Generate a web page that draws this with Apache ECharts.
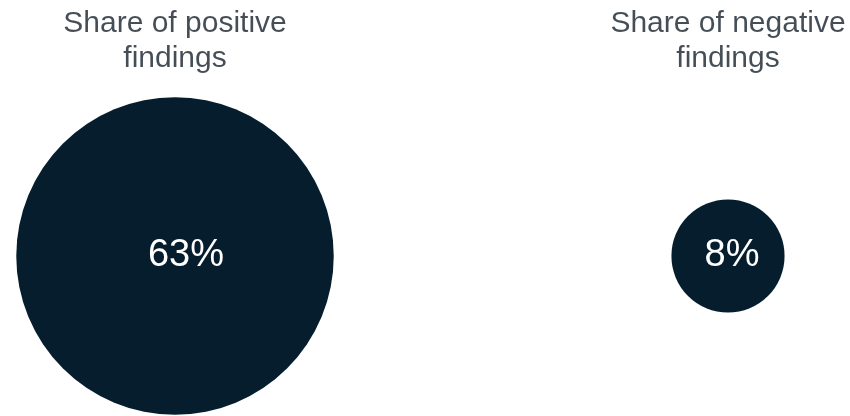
<!DOCTYPE html>
<html>
<head>
<meta charset="utf-8">
<script src="https://cdn.jsdelivr.net/npm/echarts@6/dist/echarts.min.js"></script>
<style>
html,body{margin:0;padding:0;background:#fff;}
#c{width:850px;height:416px;}
</style>
</head>
<body>
<div id="c"></div>
<script>
const categories = ["Share of positive\nfindings", "Share of negative\nfindings"];
const shares = [63, 8];
const positions = [0, 1];
const labelShift = [11, 4];

const chart = echarts.init(document.getElementById('c'), null, {renderer: 'canvas'});
const sizeScale = 40;
const fontFam = '"Liberation Sans", Arial, Helvetica, sans-serif';

chart.setOption({
  animation: false,
  grid: {left: 175, right: 122, top: 256, bottom: 160, containLabel: false},
  xAxis: {type: 'value', min: 0, max: 1, show: false},
  yAxis: {type: 'value', min: 0, max: 1, show: false},
  series: [
    {
      type: 'scatter',
      clip: false,
      data: positions.map((p, i) => ({
        value: [p, 0],
        label: {offset: [labelShift[i], 0]}
      })),
      symbol: 'circle',
      symbolSize: (val, params) => sizeScale * Math.sqrt(shares[params.dataIndex]),
      itemStyle: {color: '#061d2d', opacity: 1},
      label: {
        show: true,
        position: 'inside',
        formatter: p => shares[p.dataIndex] + '%',
        color: '#ffffff',
        fontSize: 38,
        fontFamily: fontFam
      }
    },
    {
      type: 'scatter',
      clip: false,
      symbolSize: 1,
      silent: true,
      data: positions.map((p, i) => ({value: [p, 0]})),
      itemStyle: {color: 'rgba(0,0,0,0)'},
      label: {
        show: true,
        position: 'inside',
        offset: [0, -215],
        formatter: p => categories[p.dataIndex],
        color: '#17222d',
        fontSize: 30,
        lineHeight: 35,
        fontFamily: fontFam,
        align: 'center'
      }
    }
  ]
});
</script>
</body>
</html>
